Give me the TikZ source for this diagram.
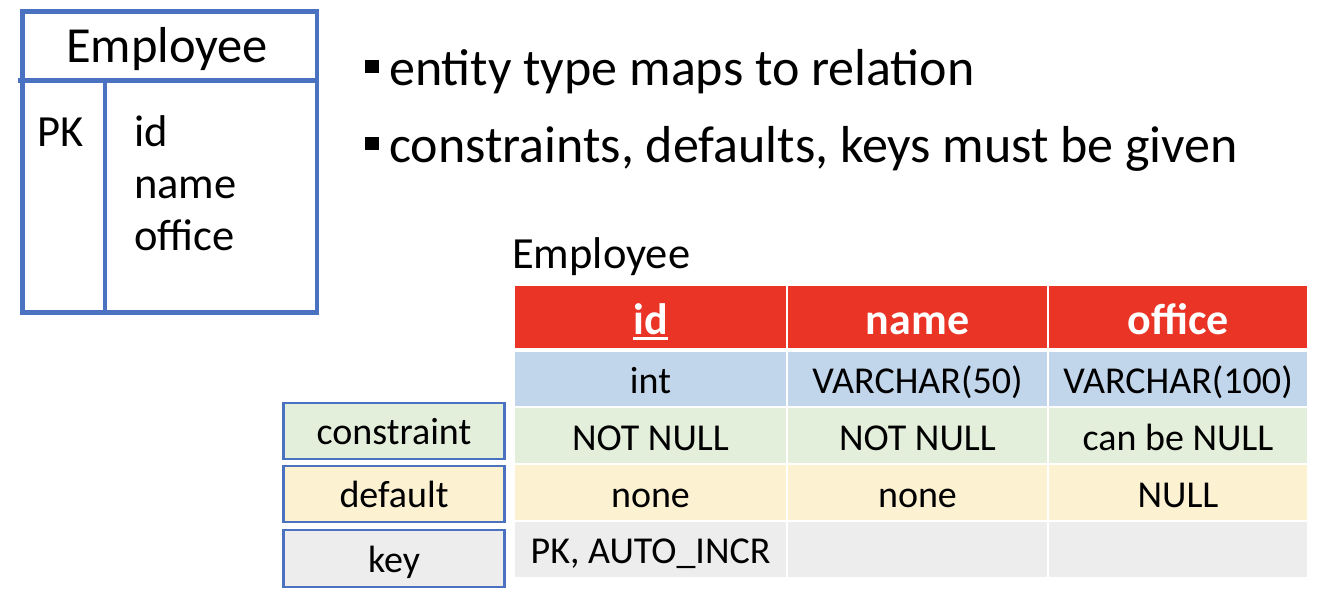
\documentclass[tikz,border=0pt]{standalone}
\usepackage{fontspec}
\setmainfont{Carlito}
\definecolor{bluebox}{HTML}{4A72C0}
\definecolor{hdrred}{HTML}{E93426}
\definecolor{typeblue}{HTML}{C1D5EB}
\definecolor{consgreen}{HTML}{E3EEDB}
\definecolor{defyellow}{HTML}{FCF1D1}
\definecolor{keygray}{HTML}{EDEDED}
\newcommand{\fs}[1]{\fontsize{#1}{1.2\dimexpr#1pt\relax}\selectfont}
\tikzset{
  cell/.style={inner sep=0pt, draw=white, line width=2pt, anchor=north west,
    text height=30pt, text depth=2pt, font=\fs{38}},
  hdrcell/.style={cell, fill=hdrred, text=white, text height=36pt, text depth=2pt, font=\fs{44}\bfseries},
  labelbox/.style={draw=bluebox, line width=2.5pt, inner sep=0pt, minimum width=221pt,
    text height=29pt, text depth=2pt, font=\fs{38}},
  entline/.style={draw=bluebox, line width=4.5pt},
  bulletsq/.style={fill=black, inner sep=0pt, minimum width=14pt, minimum height=13pt, anchor=north west},
  btext/.style={anchor=base west, inner sep=0pt, font=\fs{52}},
  attr/.style={anchor=base west, inner sep=0pt, font=\fs{44.5}},
}
\begin{document}
\begin{tikzpicture}[x=1pt,y=-1pt]
\useasboundingbox (0,0) rectangle (1328,602);
% entity box
\node[entline, minimum width=294.5pt, minimum height=300.5pt, inner sep=0pt, anchor=north west] (ent) at (20,9.5) {};
\coordinate (hdl) at (20,80.5);
\coordinate (hdr) at (314.5,80.5);
\coordinate (vtop) at (105,80.5);
\coordinate (vbot) at (105,310);
\draw[entline, line cap=rect] (hdl) -- (hdr);
\draw[entline] (vtop) -- (vbot);
\node[anchor=base, inner sep=0pt, font=\fs{50.5}] (entT) at (167,63) {Employee};
\node[attr] (pk) at (37,146) {PK};
\node[attr] (a1) at (134,146) {id};
\node[attr] (a2) at (134,198) {name};
\node[attr] (a3) at (134,250) {office};
% bullets
\node[bulletsq] (b1) at (365,60) {};
\node[btext] (t1) at (389,85) {entity type maps to relation};
\node[bulletsq] (b2) at (365,137) {};
\node[btext] (t2) at (389,162) {constraints, defaults, keys must be given};
% table title
\node[anchor=base west, inner sep=0pt, font=\fs{44.5}] (tt) at (512,268) {Employee};
% header row
\node[hdrcell, minimum width=273pt, minimum height=64pt] (h1) at (513,284) {\phantom{id}};
\node[hdrcell, minimum width=261pt, minimum height=64pt] (h2) at (786,284) {name};
\node[hdrcell, minimum width=260pt, minimum height=64pt] (h3) at (1047,284) {office};
\node[anchor=base, inner sep=0pt, text=white, font=\fs{44}\bfseries] (idt) at (h1.base) {id};
\draw[white, line width=3pt] ([yshift=-4pt]idt.base west) -- ([yshift=-4pt]idt.base east);
% type row
\node[cell, fill=typeblue, minimum width=273pt, minimum height=57pt] (c11) at (513,350) {int};
\node[cell, fill=typeblue, minimum width=261pt, minimum height=57pt] (c12) at (786,350) {VARCHAR(50)};
\node[cell, fill=typeblue, minimum width=260pt, minimum height=57pt] (c13) at (1047,350) {VARCHAR(100)};
% constraint row
\node[cell, fill=consgreen, minimum width=273pt, minimum height=58pt] (c21) at (513,406) {NOT NULL};
\node[cell, fill=consgreen, minimum width=261pt, minimum height=58pt] (c22) at (786,406) {NOT NULL};
\node[cell, fill=consgreen, minimum width=260pt, minimum height=58pt] (c23) at (1047,406) {can be NULL};
% default row
\node[cell, fill=defyellow, minimum width=273pt, minimum height=58pt] (c31) at (513,463) {none};
\node[cell, fill=defyellow, minimum width=261pt, minimum height=58pt] (c32) at (786,463) {none};
\node[cell, fill=defyellow, minimum width=260pt, minimum height=58pt] (c33) at (1047,463) {NULL};
% key row
\node[cell, fill=keygray, minimum width=273pt, minimum height=57pt] (c41) at (513,520) {PK, AUTO\_INCR};
\node[cell, fill=keygray, minimum width=261pt, minimum height=57pt] (c42) at (786,520) {};
\node[cell, fill=keygray, minimum width=260pt, minimum height=57pt] (c43) at (1047,520) {};
% label boxes
\node[labelbox, fill=consgreen, minimum height=56pt] (lc) at (394,431) {constraint};
\node[labelbox, fill=defyellow, minimum height=56pt] (ld) at (394,494) {default};
\node[labelbox, fill=keygray, minimum height=57pt] (lk) at (394,558.5) {key};
\end{tikzpicture}
\end{document}
